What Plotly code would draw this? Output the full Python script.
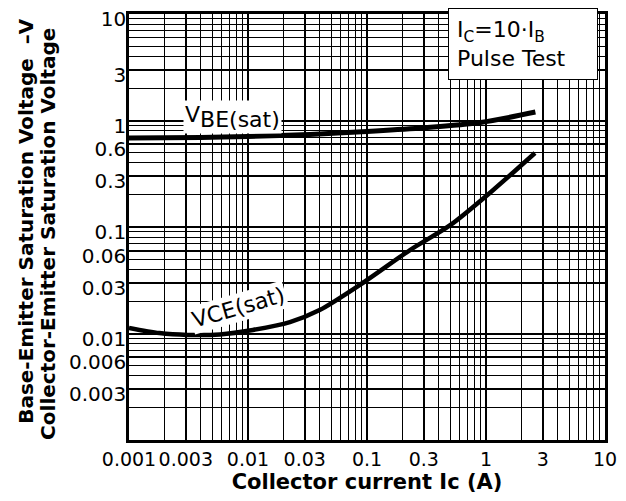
import plotly.graph_objects as go

# VBE(sat) curve
vbe_ic = [0.001, 0.004, 0.01, 0.033, 0.1, 0.28, 0.9, 2.6]
vbe_v = [0.686, 0.692, 0.708, 0.74, 0.789, 0.851, 0.958, 1.2]

# VCE(sat) curve
vce_ic = [0.001, 0.0018, 0.0031, 0.0058, 0.011, 0.0225, 0.040, 0.092, 0.23, 0.50, 1.15, 2.58]
vce_v = [0.0113, 0.0101, 0.0097, 0.0098, 0.0108, 0.0128, 0.0166, 0.0298, 0.0608, 0.104, 0.2225, 0.495]

x_ticks = [0.001, 0.003, 0.01, 0.03, 0.1, 0.3, 1, 3, 10]
x_labels = ["0.001", "0.003", "0.01", "0.03", "0.1", "0.3", "1", "3", "10"]
y_ticks = [0.003, 0.006, 0.01, 0.03, 0.06, 0.1, 0.3, 0.6, 1, 3, 10]
y_labels = ["0.003", "0.006", "0.01", "0.03", "0.06", "0.1", "0.3", "0.6", "1", "3", "10"]

FONT = "DejaVu Sans, Verdana, sans-serif"

fig = go.Figure()
fig.add_trace(go.Scatter(x=vbe_ic, y=vbe_v, mode="lines",
                         line=dict(color="black", width=5, shape="spline", smoothing=0.8), showlegend=False))
fig.add_trace(go.Scatter(x=vce_ic, y=vce_v, mode="lines",
                         line=dict(color="black", width=4.5, shape="spline", smoothing=0.8), showlegend=False))

axis_common = dict(
    type="log", automargin=False,
    showgrid=True, gridcolor="black", gridwidth=1.6,
    showline=True, linecolor="black", linewidth=2.5, mirror=True,
    ticks="", zeroline=False, ticklabeloverflow="allow",
    minor=dict(showgrid=True, dtick="D1", gridcolor="black", gridwidth=1.1),
)

fig.update_xaxes(
    **axis_common,
    range=[-3, 1],
    tickmode="array", tickvals=x_ticks, ticktext=x_labels,
    tickangle=0, ticklabelstandoff=0,
    tickfont=dict(family=FONT, size=19, color="black"),
    title=dict(text="<b>Collector current Ic (A)</b>", font=dict(family=FONT, size=21, color="black"), standoff=4),
)
fig.update_yaxes(
    **axis_common,
    range=[-3, 1],
    tickmode="array", tickvals=y_ticks, ticktext=y_labels,
    ticklabelstandoff=-4, ticklabelshift=5,
    tickfont=dict(family=FONT, size=20, color="black"),
)

annotations = [
    dict(text="<b>Base-Emitter Saturation Voltage  \u2013V</b>", x=-0.218, y=0.515, xref="paper", yref="paper",
         xanchor="center", yanchor="middle", textangle=-90, showarrow=False,
         font=dict(family=FONT, size=20, color="black")),
    dict(text="<b>Collector-Emitter Saturation Voltage</b>", x=-0.17, y=0.484, xref="paper", yref="paper",
         xanchor="center", yanchor="middle", textangle=-90, showarrow=False,
         font=dict(family=FONT, size=20, color="black")),
    dict(text="I<sub>C</sub>=10\u00b7I<sub>B</sub><br>Pulse Test", x=0.985, y=1.014, xref="paper", yref="paper",
         xanchor="right", yanchor="top", showarrow=False, align="left", width=132,
         bgcolor="white", bordercolor="black", borderwidth=1, borderpad=8,
         font=dict(family=FONT, size=22, color="black")),
    dict(text="V<sub><span style='font-size:22px'>BE(sat)</span></sub>", x=-2.13, y=0.03, xref="x", yref="y",
         xanchor="center", yanchor="middle", showarrow=False, bgcolor="white",
         font=dict(family=FONT, size=22, color="black")),
    dict(text="VCE(sat)", x=-2.08, y=-1.76, xref="x", yref="y",
         xanchor="center", yanchor="middle", showarrow=False, bgcolor="white", textangle=-16,
         font=dict(family=FONT, size=22, color="black")),
]

fig.update_layout(
    width=626, height=501,
    margin=dict(l=121, r=29, t=6, b=69),
    paper_bgcolor="white", plot_bgcolor="white",
    annotations=annotations,
)

fig.write_html("out.html")
